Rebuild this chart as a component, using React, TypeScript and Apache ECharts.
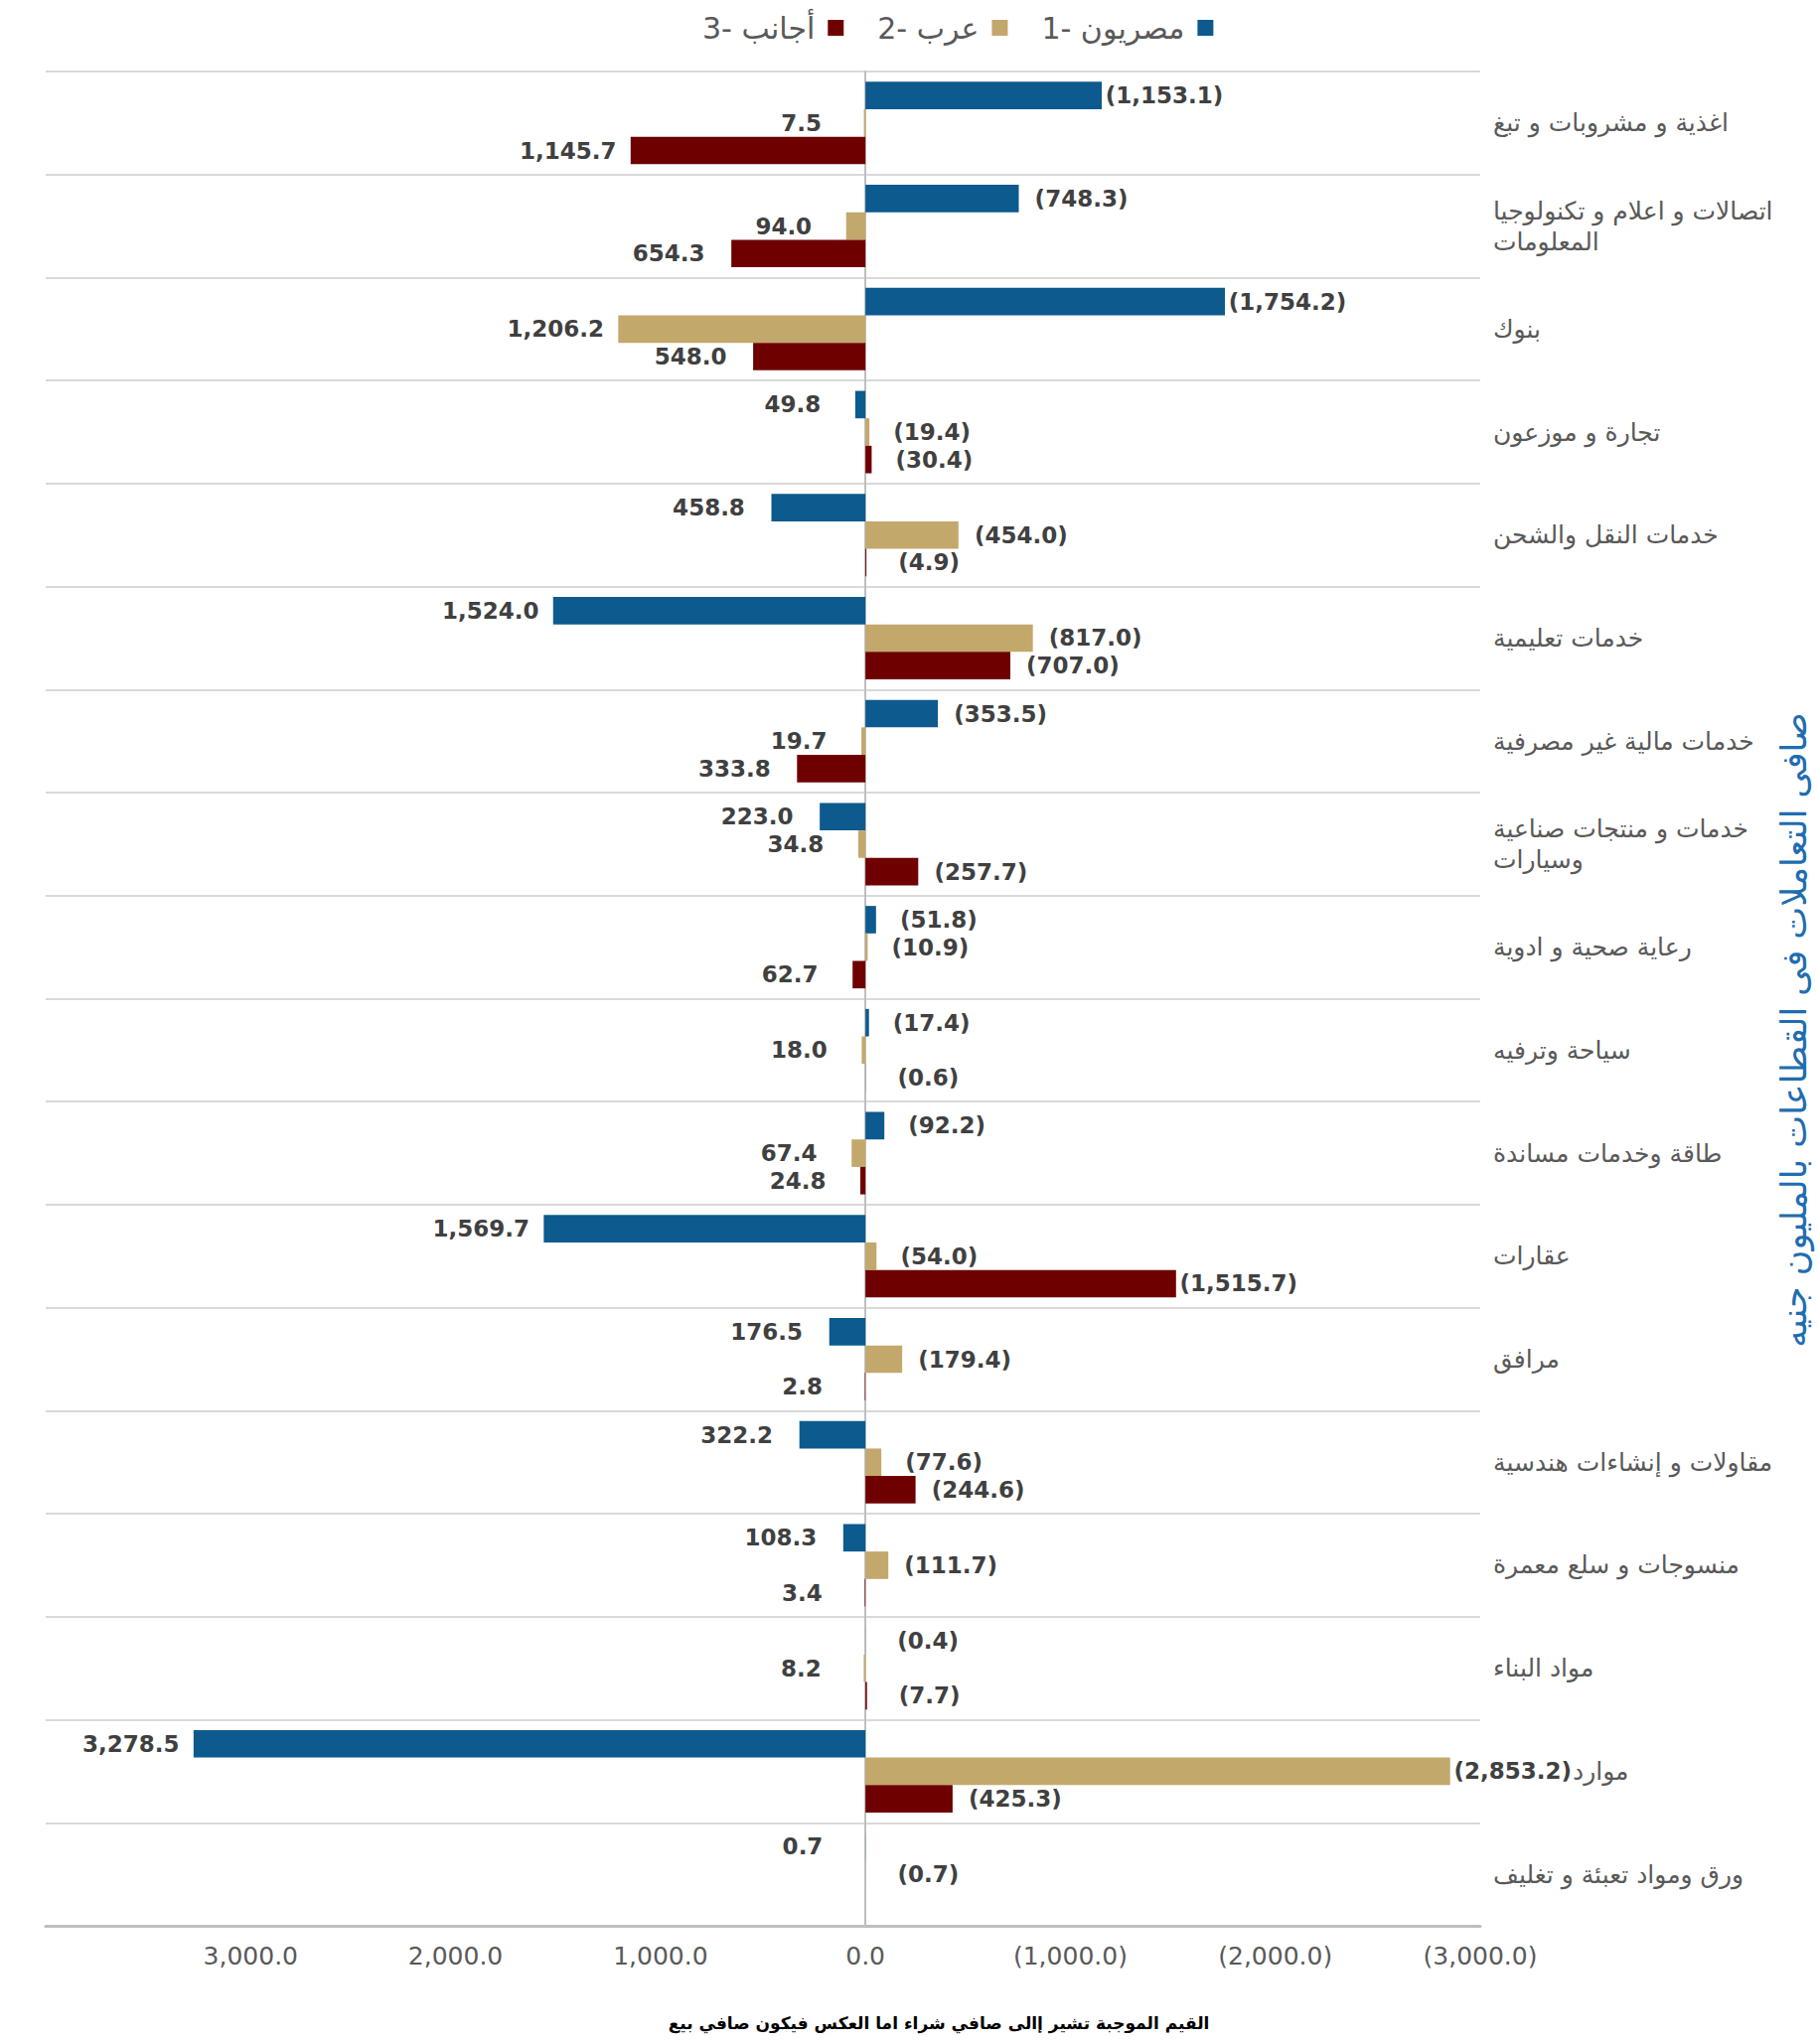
import React, { useEffect, useRef } from "react";
import * as echarts from "echarts";

const categories: string[] = [
  "اغذية و مشروبات و تبغ",
  "اتصالات و اعلام و تكنولوجيا\nالمعلومات",
  "بنوك",
  "تجارة و موزعون",
  "خدمات النقل والشحن",
  "خدمات تعليمية",
  "خدمات مالية غير مصرفية",
  "خدمات و منتجات صناعية\nوسيارات",
  "رعاية صحية و ادوية",
  "سياحة وترفيه",
  "طاقة وخدمات مساندة",
  "عقارات",
  "مرافق",
  "مقاولات و إنشاءات هندسية",
  "منسوجات و سلع معمرة",
  "مواد البناء",
  "موارد",
  "ورق ومواد تعبئة و تغليف",
];

// positive = net purchase (drawn to the left), negative = net sale (in parentheses)
const egyptians: number[] = [-1153.1, -748.3, -1754.2, 49.8, 458.8, 1524.0, -353.5, 223.0, -51.8, -17.4, -92.2, 1569.7, 176.5, 322.2, 108.3, -0.4, 3278.5, 0.7];
const arabs: number[] = [7.5, 94.0, 1206.2, -19.4, -454.0, -817.0, 19.7, 34.8, -10.9, 18.0, 67.4, -54.0, -179.4, -77.6, -111.7, 8.2, -2853.2, -0.7];
const foreigners: number[] = [1145.7, 654.3, 548.0, -30.4, -4.9, -707.0, 333.8, -257.7, 62.7, -0.6, 24.8, -1515.7, 2.8, -244.6, 3.4, -7.7, -425.3, 0];

const seriesNames: string[] = ["مصريون -1", "عرب -2", "أجانب -3"];
const legendOrder: string[] = ["أجانب -3", "عرب -2", "مصريون -1"];
const colors: string[] = ["#0C5A8E", "#C3A86C", "#6E0000"];

const axisMin = -3000;
const axisMax = 4000;
const axisInterval = 1000;

const shiftedCategory = "موارد";

const yTitle = "صافى التعاملات فى القطاعات بالمليون جنيه";
const footNote = "القيم الموجبة تشير إالى صافي شراء اما العكس فيكون صافي بيع";

const fmtNum = (v: number) =>
  Math.abs(v).toLocaleString("en-US", { minimumFractionDigits: 1, maximumFractionDigits: 1 });
const fmtSigned = (v: number) => (v < 0 ? "(" + fmtNum(v) + ")" : fmtNum(v));

const ARABIC_FONT = "DejaVu Sans";

export default function App() {
  const ref = useRef<HTMLDivElement>(null);
  useEffect(() => {
    if (!ref.current) return;
    const chart = echarts.init(ref.current, undefined, { renderer: "svg" });
    const mk = (name: string, vals: number[], color: string) => ({
      name,
      type: "bar",
      barGap: "0%",
      barCategoryGap: "20%",
      itemStyle: { color },
      data: vals.map((v) => ({
        value: v,
        label: { position: v >= 0 ? "left" : "right" },
      })),
      label: {
        show: true,
        distance: 63,
        align: "center",
        verticalAlign: "middle",
        fontFamily: "DejaVu Sans",
        fontWeight: "bold",
        fontSize: 23,
        color: "#404040",
        formatter: (p: any) => (p.value === 0 ? "" : fmtSigned(p.value)),
      },
    });
    chart.setOption({
      animation: false,
      backgroundColor: "#ffffff",
      legend: {
        data: legendOrder,
        top: 8,
        left: 702,
        align: "right",
        itemWidth: 16,
        itemHeight: 16,
        itemGap: 34,
        icon: "rect",
        textStyle: { fontFamily: ARABIC_FONT, fontSize: 30, color: "#595959", padding: [0, 8, 0, 0] },
      },
      grid: { left: 46, right: 340, top: 72, bottom: 119, containLabel: false },
      xAxis: {
        type: "value",
        inverse: true,
        min: axisMin,
        max: axisMax,
        interval: axisInterval,
        splitLine: { show: false },
        axisTick: { show: false },
        axisLine: { show: true, onZero: false, lineStyle: { color: "#BFBFBF", width: 3 } },
        axisLabel: {
          margin: 18,
          fontFamily: "DejaVu Sans",
          fontSize: 25,
          color: "#595959",
          showMaxLabel: false,
          formatter: (v: number) => (v === axisMax ? "" : fmtSigned(v)),
        },
      },
      yAxis: {
        type: "category",
        inverse: true,
        position: "right",
        data: categories.map((c) =>
          c === shiftedCategory ? { value: c, textStyle: { padding: [0, 0, 0, 80] } } : c
        ),
        axisTick: { show: false },
        axisLine: { show: true, lineStyle: { color: "#BFBFBF", width: 2 } },
        splitLine: { show: true, lineStyle: { color: "#D9D9D9", width: 2 } },
        axisLabel: {
          margin: 13,
          align: "left",
          fontFamily: ARABIC_FONT,
          fontSize: 25,
          lineHeight: 31,
          color: "#595959",
        },
      },
      graphic: [
        {
          type: "text",
          x: 1806,
          y: 1037,
          rotation: Math.PI / 2,
          style: {
            text: yTitle,
            fontFamily: ARABIC_FONT,
            fontSize: 35,
            fill: "#1F6DB0",
            align: "center",
            verticalAlign: "middle",
          },
        },
        {
          type: "text",
          x: 945,
          y: 2037,
          style: {
            text: footNote,
            fontFamily: ARABIC_FONT,
            fontWeight: "bold",
            fontSize: 17,
            fill: "#000000",
            align: "center",
            verticalAlign: "middle",
          },
        },
      ],
      series: [
        mk(seriesNames[0], egyptians, colors[0]),
        mk(seriesNames[1], arabs, colors[1]),
        mk(seriesNames[2], foreigners, colors[2]),
      ],
    });
    return () => chart.dispose();
  }, []);
  return (
    <div
      ref={ref}
      style={{ position: "fixed", left: 0, top: 0, width: 1830, height: 2058 }}
    />
  );
}
